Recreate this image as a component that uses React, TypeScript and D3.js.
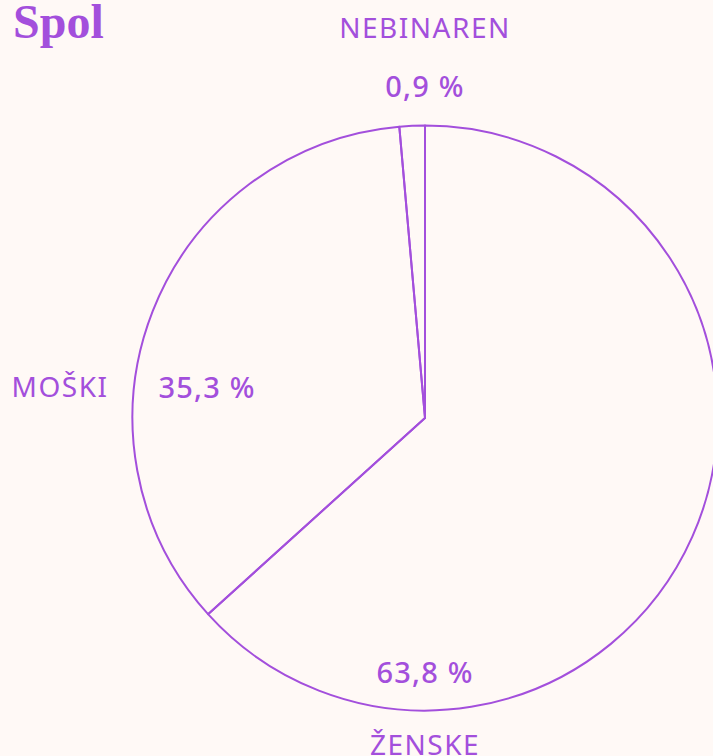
import React from "react";
import * as d3 from "d3";

const title = "Spol";
const categories = ["ŽENSKE", "MOŠKI", "NEBINAREN"];
const values = [63.3, 35.3, 1.4];
const pctLabels = ["63,8 %", "35,3 %", "0,9 %"];

const W = 713;
const H = 756;
const cx = 425;
const cy = 418;
const R = 292.5;
const color = "#a34fdc";
const bg = "#fff9f6";

// label layout offsets relative to pie centre
const labelLayout = [
  { name: [0, 326], pct: [0, 253] },
  { name: [-365, -32], pct: [-218, -32] },
  { name: [0, -391], pct: [0, -333] },
];

export default function App() {
  const pie = d3.pie<number>().sort(null).value((d) => d)(values);
  const arc = d3.arc<d3.PieArcDatum<number>>().innerRadius(0).outerRadius(R);
  return (
    <svg
      width={W}
      height={H}
      style={{ position: "absolute", left: 0, top: 0, background: bg }}
    >
      <rect width={W} height={H} fill={bg} />
      <text
        x={13}
        y={38}
        fontFamily="'Liberation Serif', serif"
        fontWeight={700}
        fontSize={48}
        fill={color}
      >
        {title}
      </text>
      <g transform={`translate(${cx},${cy})`}>
        {pie.map((p, i) => (
          <path
            key={i}
            d={arc(p) || ""}
            fill="none"
            stroke={color}
            strokeWidth={2}
            strokeLinejoin="round"
          />
        ))}
        {categories.map((c, i) => {
          const L = labelLayout[i];
          return (
            <g key={c}>
              <text
                x={L.name[0]}
                y={L.name[1]}
                textAnchor="middle"
                dominantBaseline="central"
                fontFamily="'Noto Sans', sans-serif"
                fontSize={28}
                letterSpacing={1.5}
                fill={color}
              >
                {c}
              </text>
              <text
                x={L.pct[0]}
                y={L.pct[1]}
                textAnchor="middle"
                dominantBaseline="central"
                fontFamily="'Noto Sans', sans-serif"
                fontWeight={500}
                fontSize={29}
                letterSpacing={1.2}
                fill={color}
              >
                {pctLabels[i]}
              </text>
            </g>
          );
        })}
      </g>
    </svg>
  );
}
